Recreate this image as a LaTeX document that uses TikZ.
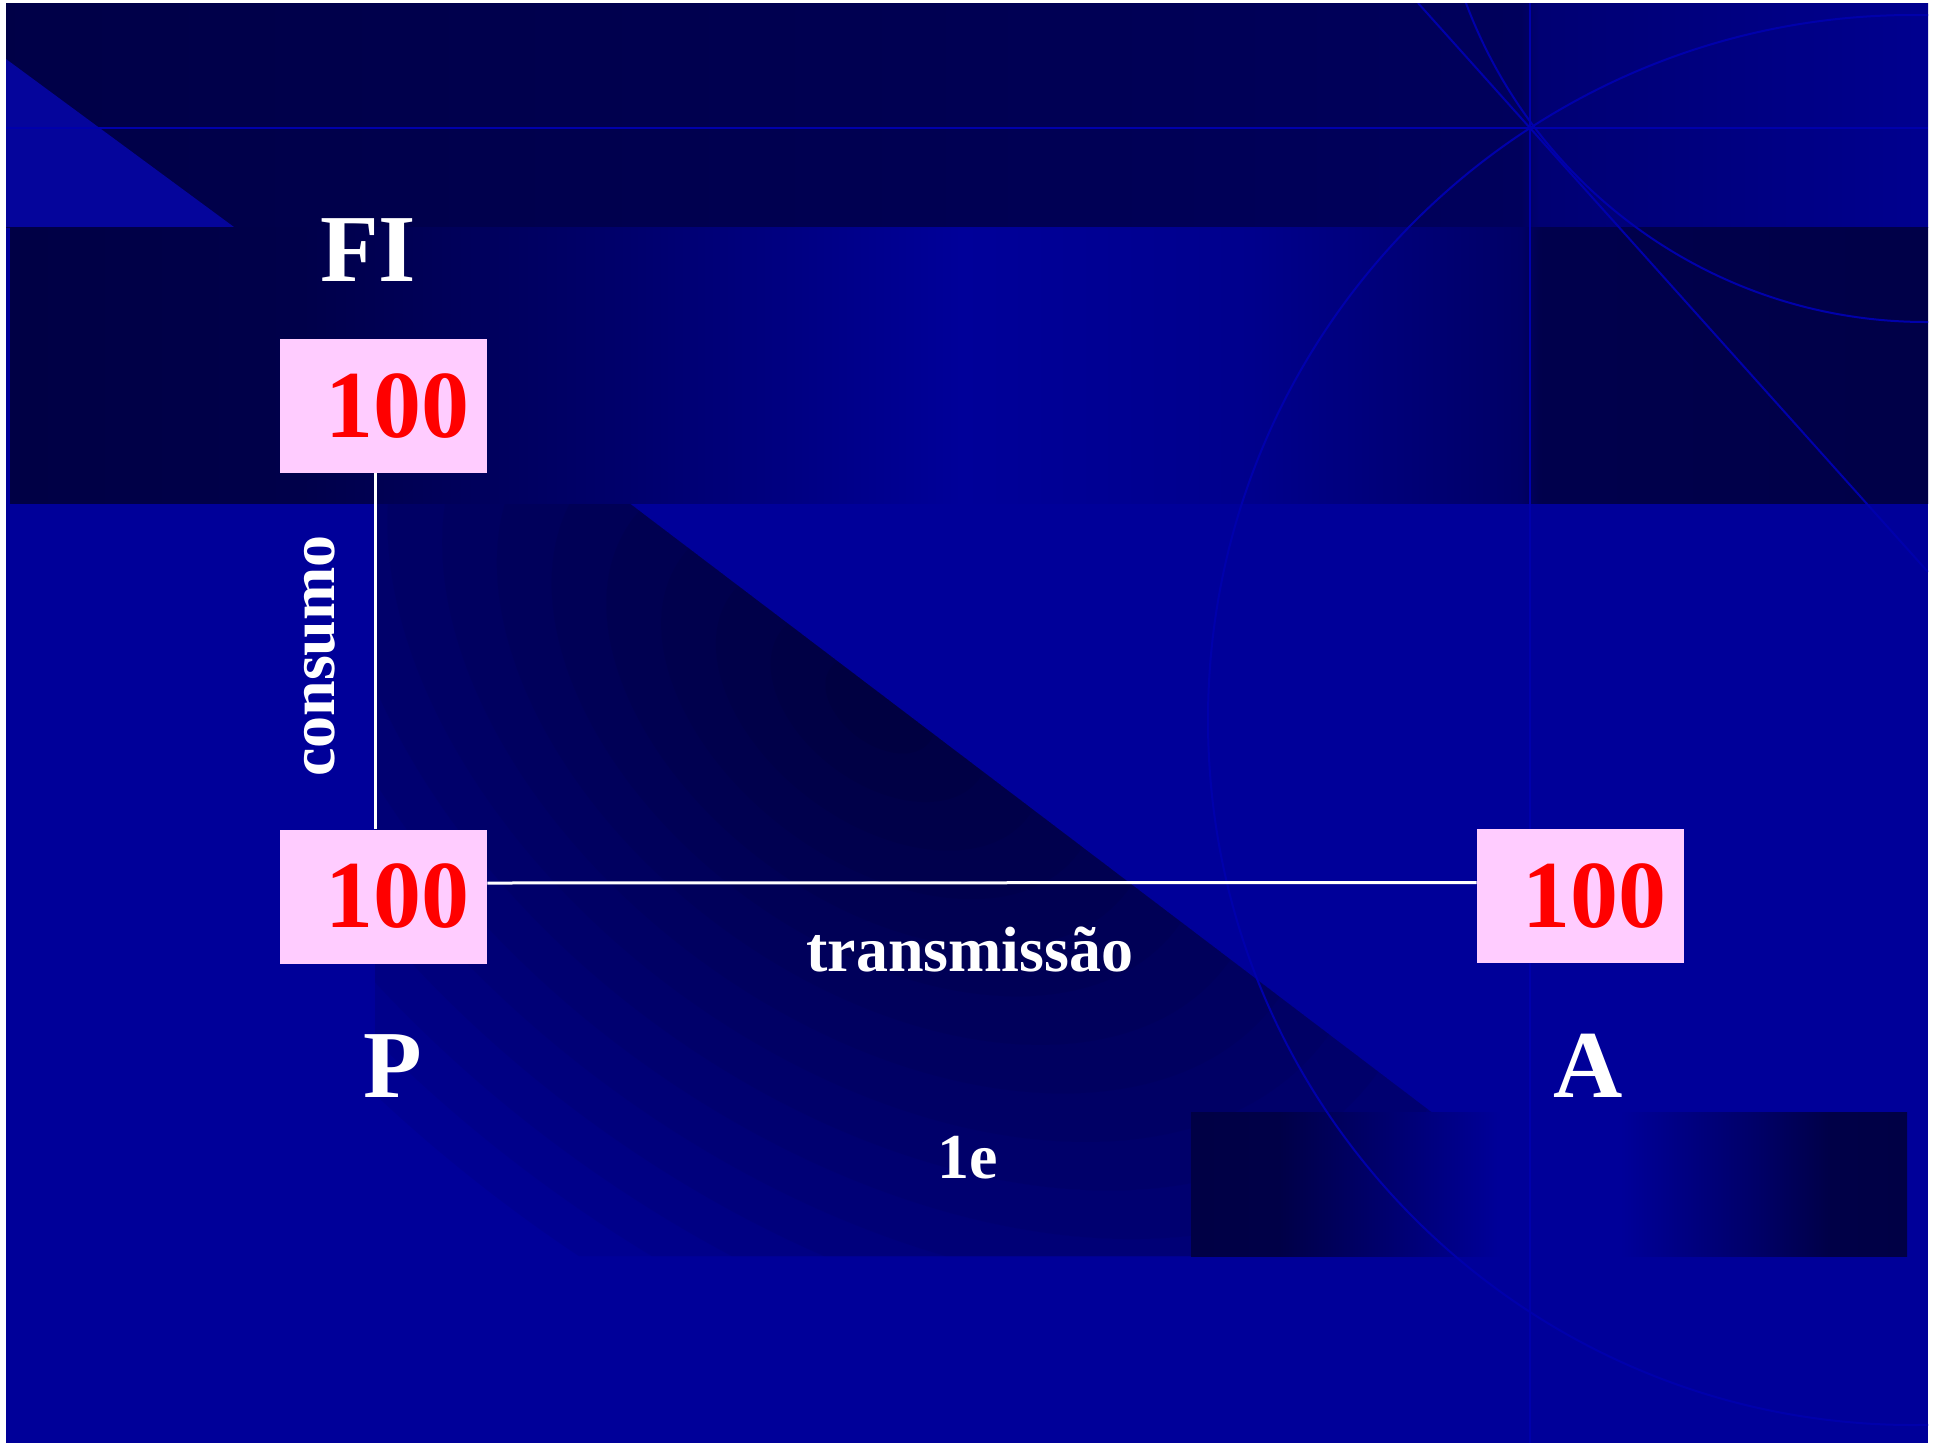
\documentclass[tikz,border=0pt]{standalone}
\usepackage{fontspec}
\setmainfont{Liberation Serif}
\definecolor{bgblue}{rgb}{0,0,0.6}
\definecolor{decoline}{rgb}{0,0,0.67}
\definecolor{boxpink}{HTML}{FFCCFF}
\definecolor{numred}{HTML}{FF0000}
\pgfdeclarehorizontalshading{topband}{100bp}{rgb(0bp)=(0,0,.28); rgb(25bp)=(0,0,.28); rgb(48bp)=(0,0,.32); rgb(64.4bp)=(0,0,.36); rgb(64.9bp)=(0,0,.45); rgb(75bp)=(0,0,.56); rgb(100bp)=(0,0,.56)}
\pgfdeclarehorizontalshading{midband}{100bp}{rgb(0bp)=(0,0,.27); rgb(25bp)=(0,0,.27); rgb(32.6bp)=(0,0,.29); rgb(40.9bp)=(0,0,.42); rgb(49.8bp)=(0,0,.60); rgb(57.3bp)=(0,0,.55); rgb(64.4bp)=(0,0,.40); rgb(64.9bp)=(0,0,.30); rgb(75bp)=(0,0,.28); rgb(100bp)=(0,0,.28)}
\pgfdeclarehorizontalshading{lowband}{100bp}{rgb(0bp)=(0,0,.27); rgb(25bp)=(0,0,.27); rgb(31.2bp)=(0,0,.28); rgb(39.6bp)=(0,0,.45); rgb(46.6bp)=(0,0,.60); rgb(55bp)=(0,0,.60); rgb(64.7bp)=(0,0,.40); rgb(69.6bp)=(0,0,.28); rgb(75bp)=(0,0,.27); rgb(100bp)=(0,0,.27)}
\tikzset{
  numbox/.style={rectangle, fill=boxpink, minimum width=103.5pt, minimum height=67pt, inner sep=0pt, text=numred, font=\bfseries\fontsize{48}{50}\selectfont},
  biglabel/.style={text=white, font=\bfseries\fontsize{48}{50}\selectfont, inner sep=0pt, anchor=base},
  smalllabel/.style={text=white, font=\bfseries\fontsize{32}{34}\selectfont, inner sep=0pt},
  conn/.style={draw=white, line width=1.5pt},
  deco/.style={draw=decoline, line width=1pt}
}
\begin{document}
\begin{tikzpicture}[x=0.5pt,y=-0.5pt]
\fill[white] (0,0) rectangle (1933,1446);
\useasboundingbox (0,0) rectangle (1933,1446);
% slide base
\fill[bgblue] (6,3) rectangle (1928,1443);
% dark diagonal region (soft elliptical fade)
\begin{scope}
  \clip (375,503) -- (629,503) -- (1621,1256) -- (375,1256) -- cycle;
  \foreach \k in {1,...,16}{
    \fill[black, opacity=0.047, rotate around={-37:(880,705)}] (880,705) ellipse [x radius={\k*30.94pt}, y radius={\k*19.5pt}];
  }
\end{scope}
% bottom band
\shade[shading=lowband] (1191,1112) rectangle (1907,1256);
% top band
\shade[shading=topband] (6,3) rectangle (1928,227);
\fill[bgblue!98!white] (6,59) -- (234,227) -- (6,227) -- cycle;
% middle band
\shade[shading=midband] (10,227) rectangle (1928,503);
% decorative lines
\begin{scope}
  \clip (6,3) rectangle (1928,1443);
  \draw[deco] (6,128) -- (1928,128);
  \draw[deco] (1530,3) -- (1530,1443);
  \draw[deco] (1418,3) -- (1928,572);
  \draw[deco] (1926,-169) circle[radius=245.5pt];
  \draw[deco] (1913,720) circle[radius=352.5pt];
\end{scope}
% nodes
\node[numbox] (b1) at (383.5,406) {\hspace*{14pt}100};
\node[numbox] (b2) at (383.5,896.5) {\hspace*{14pt}100};
\node[numbox] (b3) at (1580.5,896) {\hspace*{14pt}100};
\draw[conn] ([xshift=-4.25pt]b1.south) -- ([xshift=-4.25pt]b2.north);
\draw[conn] ([yshift=6.75pt]b2.east) -- ([yshift=6.75pt]b3.west);
\node[biglabel] (fi) at (368,281) {FI};
\node[biglabel] (p) at (393,1097) {P};
\node[biglabel] (a) at (1588,1097) {A};
\node[smalllabel, rotate=90] (cons) at (320,656) {consumo};
\node[smalllabel, anchor=base] (trans) at (970,971) {transmissão};
\node[smalllabel, anchor=base] (le) at (968,1178) {1e};
\end{tikzpicture}
\end{document}
